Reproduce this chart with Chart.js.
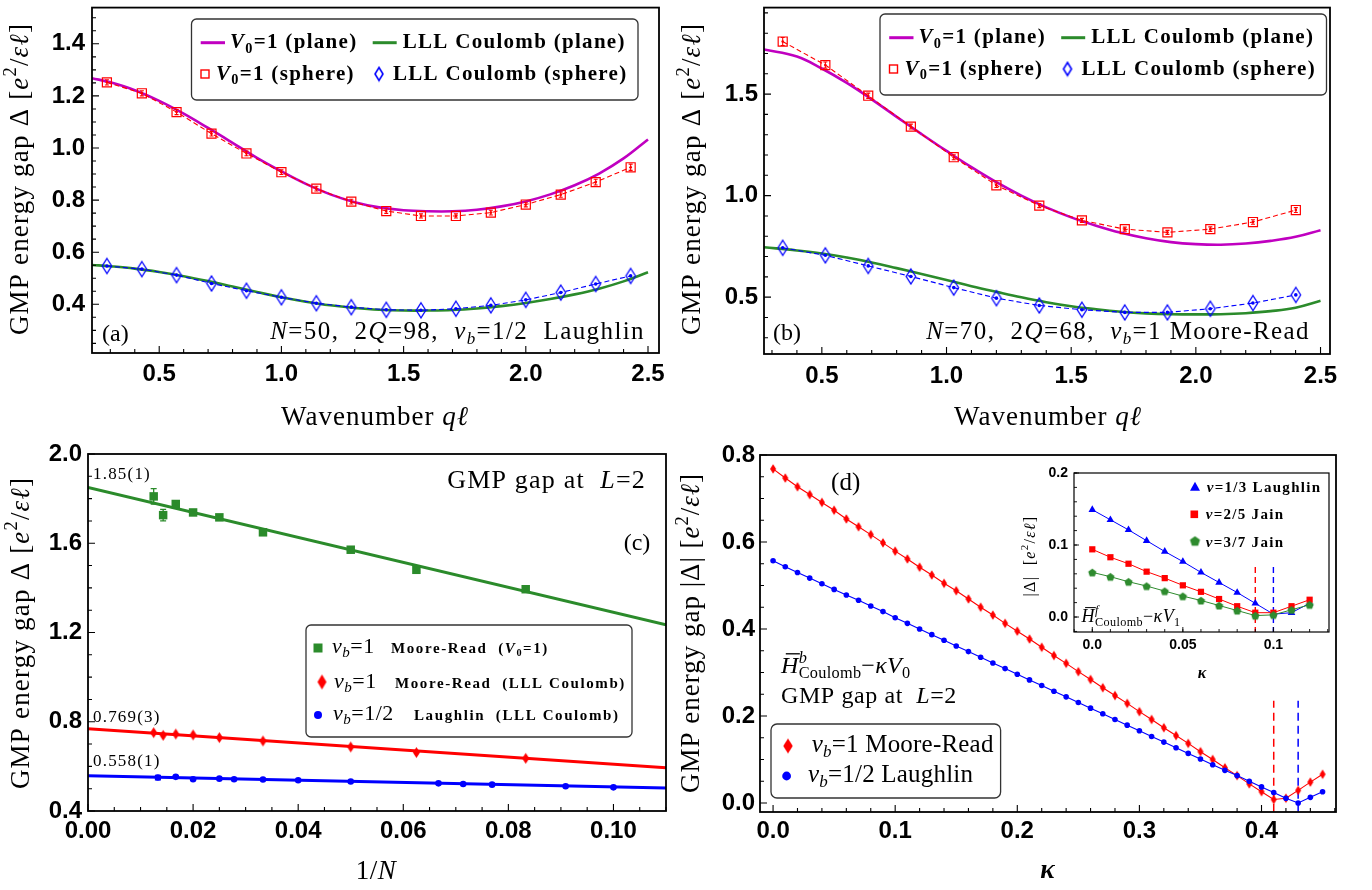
<!DOCTYPE html>
<html>
<head>
<meta charset="utf-8">
<title>GMP energy gap</title>
<script src="https://cdn.jsdelivr.net/npm/chart.js@4.4.1/dist/chart.umd.min.js"></script>
<style>
html,body{margin:0;padding:0;background:#ffffff;}
#wrap{position:relative;width:1372px;height:890px;overflow:hidden;background:#fff;}
#wrap canvas{position:absolute;display:block;}
</style>
</head>
<body>
<div id="wrap">
<canvas id="cA" style="left:0px;top:0px"></canvas>
<canvas id="cB" style="left:670px;top:0px"></canvas>
<canvas id="cC" style="left:0px;top:440px"></canvas>
<canvas id="cD" style="left:670px;top:440px"></canvas>
<canvas id="cI" style="left:1000px;top:460px"></canvas>
</div>
<script>
// ---------------- DATA ----------------
// Panel (a): N=50, 2Q=98, nu_b=1/2 Laughlin
const aSphereQ   = [0.286,0.429,0.571,0.714,0.857,1.000,1.143,1.286,1.429,1.571,1.714,1.857,2.000,2.143,2.286,2.429];
const aV0Sphere  = [1.252,1.210,1.138,1.055,0.979,0.907,0.844,0.794,0.758,0.739,0.739,0.752,0.783,0.821,0.869,0.926];
const aV0Err     = [0.010,0.010,0.010,0.009,0.009,0.009,0.009,0.009,0.009,0.008,0.008,0.009,0.009,0.010,0.011,0.012];
const aCoulSphere= [0.547,0.535,0.512,0.480,0.452,0.427,0.404,0.389,0.379,0.377,0.383,0.396,0.417,0.445,0.478,0.509];
const aPlaneQ    = [0.225,0.3,0.4,0.5,0.6,0.7,0.8,0.9,1.0,1.1,1.2,1.3,1.4,1.5,1.6,1.7,1.8,1.9,2.0,2.1,2.2,2.3,2.4,2.5];
const aV0Plane   = [1.268,1.252,1.222,1.181,1.132,1.077,1.020,0.962,0.910,0.862,0.822,0.792,0.772,0.761,0.757,0.757,0.763,0.776,0.795,0.822,0.857,0.902,0.960,1.033];
const aCoulPlane = [0.551,0.546,0.537,0.524,0.508,0.489,0.468,0.447,0.427,0.410,0.396,0.386,0.379,0.376,0.376,0.378,0.384,0.393,0.405,0.420,0.438,0.460,0.488,0.523];
const aXTickVals = [0.5,1.0,1.5,2.0,2.5];
const aXTickLabels = ['0.5','1.0','1.5','2.0','2.5'];
const aYTickVals = [0.4,0.6,0.8,1.0,1.2,1.4];
const aYTickLabels = ['0.4','0.6','0.8','1.0','1.2','1.4'];

// Panel (b): N=70, 2Q=68, nu_b=1 Moore-Read
const bSphereQ   = [0.343,0.514,0.686,0.857,1.029,1.200,1.372,1.543,1.715,1.886,2.058,2.229,2.401];
const bV0Sphere  = [1.759,1.643,1.492,1.340,1.189,1.051,0.951,0.878,0.835,0.819,0.835,0.870,0.929];
const bV0Err     = [0.020,0.015,0.013,0.012,0.012,0.011,0.010,0.010,0.010,0.010,0.011,0.011,0.012];
const bCoulSphere= [0.743,0.706,0.654,0.602,0.547,0.495,0.459,0.438,0.425,0.425,0.443,0.471,0.511];
const bPlaneQ    = [0.268,0.4,0.5,0.6,0.7,0.8,0.9,1.0,1.1,1.2,1.3,1.4,1.5,1.6,1.7,1.8,1.9,2.0,2.1,2.2,2.3,2.4,2.5];
const bV0Plane   = [1.720,1.685,1.626,1.555,1.474,1.388,1.303,1.220,1.140,1.066,1.000,0.942,0.893,0.852,0.817,0.790,0.771,0.761,0.758,0.764,0.777,0.797,0.830];
const bCoulPlane = [0.746,0.730,0.715,0.695,0.671,0.643,0.614,0.584,0.554,0.526,0.499,0.475,0.455,0.440,0.428,0.420,0.416,0.415,0.416,0.421,0.431,0.448,0.482];
const bXTickVals = [0.5,1.0,1.5,2.0,2.5];
const bXTickLabels = ['0.5','1.0','1.5','2.0','2.5'];
const bYTickVals = [0.5,1.0,1.5];
const bYTickLabels = ['0.5','1.0','1.5'];

// Panel (c): GMP gap at L=2 vs 1/N
const cInvNMR    = [0.0125,0.0143,0.0167,0.0200,0.0250,0.0333,0.0500,0.0625,0.0833];
const cMRV0      = [1.810,1.726,1.776,1.738,1.716,1.649,1.571,1.481,1.394];
const cMRV0Err   = [0.035,0.026,0.012,0.008,0.007,0.007,0.007,0.007,0.007];
const cMRCoul    = [0.751,0.739,0.745,0.741,0.729,0.714,0.687,0.662,0.636];
const cInvNL     = [0.0133,0.0167,0.0200,0.0250,0.0278,0.0333,0.0400,0.0500,0.0667,0.0714,0.0769,0.0909,0.1000];
const cLCoul     = [0.550,0.553,0.542,0.545,0.542,0.541,0.538,0.532,0.524,0.521,0.518,0.511,0.506];
const cLCoulErr  = [0.010,0.004,0.003,0.003,0.003,0.002,0.002,0.002,0.002,0.002,0.002,0.002,0.002];
const cFitX      = [0, 0.11];
const cFitMRV0   = [1.850, 1.234];
const cFitMRCoul = [0.769, 0.594];
const cFitLCoul  = [0.558, 0.503];
const cXTickVals = [0,0.02,0.04,0.06,0.08,0.10];
const cXTickLabels = ['0.00','0.02','0.04','0.06','0.08','0.10'];
const cYTickVals = [0.4,0.8,1.2,1.6,2.0];
const cYTickLabels = ['0.4','0.8','1.2','1.6','2.0'];

// Panel (d): |Delta| vs kappa
const dKappa = [0.00,0.01,0.02,0.03,0.04,0.05,0.06,0.07,0.08,0.09,0.10,0.11,0.12,0.13,0.14,0.15,0.16,0.17,0.18,0.19,0.20,0.21,0.22,0.23,0.24,0.25,0.26,0.27,0.28,0.29,0.30,0.31,0.32,0.33,0.34,0.35,0.36,0.37,0.38,0.39,0.40,0.41,0.42,0.43,0.44,0.45];
const dMR = [0.768,0.747,0.727,0.709,0.691,0.673,0.653,0.635,0.617,0.598,0.579,0.561,0.542,0.524,0.505,0.488,0.469,0.450,0.432,0.413,0.395,0.377,0.358,0.339,0.321,0.302,0.284,0.265,0.247,0.229,0.210,0.192,0.173,0.155,0.137,0.118,0.100,0.081,0.063,0.044,0.026,0.008,0.011,0.029,0.048,0.066];
const dL  = [0.557,0.543,0.530,0.517,0.504,0.491,0.478,0.466,0.453,0.440,0.426,0.413,0.400,0.387,0.374,0.361,0.348,0.335,0.322,0.309,0.296,0.283,0.270,0.257,0.244,0.231,0.218,0.205,0.192,0.179,0.166,0.153,0.140,0.127,0.114,0.101,0.088,0.075,0.063,0.050,0.037,0.024,0.011,0.000,0.013,0.026];
const dCritMR = 0.41, dCritL = 0.43, dCritBottom = -0.05, dCritTop = 0.235;
const dXTickVals = [0,0.1,0.2,0.3,0.4];
const dXTickLabels = ['0.0','0.1','0.2','0.3','0.4'];
const dYTickVals = [0,0.2,0.4,0.6,0.8];
const dYTickLabels = ['0.0','0.2','0.4','0.6','0.8'];

// Inset of (d): fermionic, H_Coulomb - kappa V1
const iKappa = [0.00,0.01,0.02,0.03,0.04,0.05,0.06,0.07,0.08,0.09,0.10,0.11,0.12];
const iL13 = [0.149,0.135,0.121,0.106,0.091,0.077,0.062,0.048,0.034,0.019,0.004,0.006,0.019];
const iJ25 = [0.094,0.083,0.074,0.063,0.054,0.044,0.035,0.025,0.015,0.006,0.006,0.015,0.024];
const iJ37 = [0.062,0.056,0.049,0.043,0.036,0.029,0.023,0.016,0.009,0.002,0.003,0.010,0.017];
const iCrit25 = 0.09, iCrit13 = 0.10, iCritBottom = -0.05, iCritTop = 0.072;
const iXTickVals = [0,0.05,0.1];
const iXTickLabels = ['0.0','0.05','0.1'];
const iYTickVals = [0,0.1,0.2];
const iYTickLabels = ['0.0','0.1','0.2'];

// ---------------- STYLE HELPERS ----------------
const SERIF = "'Liberation Serif','DejaVu Serif',serif";
const SANS = "'Liberation Sans',Arimo,Arial,sans-serif";
const MAG = '#c000c0', GRN = '#2b8b2b', RED = '#ff0000', BLU = '#0000ff';
Chart.defaults.font.family = SANS;

function pts(xs, ys) { return xs.map((x, i) => ({x: x, y: ys[i]})); }

function layoutRich(ctx, segs, size, ls) {
  let x = 0, held = 0; const out = [];
  for (const seg of segs) {
    const t = seg[0], f = seg[1] || '', sc = seg[2] || 1;
    const sup = f.includes('^'), sub = f.includes('_');
    const base = size * sc;
    const s = (sup || sub) ? base * 0.68 : base;
    const font = (f.includes('i') ? 'italic ' : '') + (f.includes('b') ? 'bold ' : '') + s.toFixed(1) + 'px ' + SERIF;
    ctx.font = font; ctx.letterSpacing = ls + 'px';
    const w = ctx.measureText(t).width;
    const dy = sup ? -0.42 * base : sub ? 0.2 * base : 0;
    out.push({t: t, font: font, x: x, dy: dy, w: w, s: s, bar: f.includes('o')});
    if (f.includes('h')) { held = w; } else { x += Math.max(w, held); held = 0; }
  }
  return {out: out, width: x};
}
function drawRich(ctx, segs, x, y, size, o) {
  o = o || {};
  const ls = o.ls || 0;
  ctx.save();
  ctx.translate(x, y);
  if (o.rot) ctx.rotate(o.rot);
  const L = layoutRich(ctx, segs, size, ls);
  const x0 = o.align === 'center' ? -L.width / 2 : (o.align === 'right' ? -L.width : 0);
  ctx.fillStyle = o.color || '#000';
  ctx.textAlign = 'left'; ctx.textBaseline = 'alphabetic';
  ctx.letterSpacing = ls + 'px';
  for (const s of L.out) {
    ctx.font = s.font;
    ctx.fillText(s.t, x0 + s.x, s.dy);
    if (s.bar) {
      ctx.strokeStyle = o.color || '#000'; ctx.lineWidth = Math.max(1, s.s * 0.055);
      const by = s.dy - s.s * 0.8;
      ctx.beginPath(); ctx.moveTo(x0 + s.x + s.s * 0.2, by); ctx.lineTo(x0 + s.x + s.w + s.s * 0.05, by); ctx.stroke();
    }
  }
  ctx.restore();
}
function roundBox(ctx, x1, y1, x2, y2, r, lw, col) {
  ctx.save(); ctx.beginPath(); ctx.roundRect(x1, y1, x2 - x1, y2 - y1, r);
  ctx.fillStyle = '#fff'; ctx.fill(); ctx.lineWidth = lw; ctx.strokeStyle = col; ctx.stroke(); ctx.restore();
}
function hline(ctx, x1, x2, y, col, lw) {
  ctx.save(); ctx.strokeStyle = col; ctx.lineWidth = lw; ctx.beginPath(); ctx.moveTo(x1, y); ctx.lineTo(x2, y); ctx.stroke(); ctx.restore();
}
function mkCanvas(w, h, fn) { const c = document.createElement('canvas'); c.width = w; c.height = h; fn(c.getContext('2d'), w / 2, h / 2); return c; }
function diamond(w, h, fill, stroke, lw) {
  return mkCanvas(Math.ceil(w + 4), Math.ceil(h + 4), (g, cx, cy) => {
    g.beginPath(); g.moveTo(cx, cy - h / 2); g.lineTo(cx + w / 2, cy); g.lineTo(cx, cy + h / 2); g.lineTo(cx - w / 2, cy); g.closePath();
    if (fill) { g.fillStyle = fill; g.fill(); }
    if (stroke) { g.strokeStyle = stroke; g.lineWidth = lw; g.stroke(); }
  });
}
function pentagon(r, fill) {
  return mkCanvas(Math.ceil(2 * r + 4), Math.ceil(2 * r + 4), (g, cx, cy) => {
    g.beginPath();
    for (let k = 0; k < 5; k++) { const a = -Math.PI / 2 + k * 2 * Math.PI / 5; const px = cx + r * Math.cos(a), py = cy + 0.5 + r * Math.sin(a); if (k === 0) g.moveTo(px, py); else g.lineTo(px, py); }
    g.closePath(); g.fillStyle = fill; g.fill();
  });
}
function drawImg(ctx, img, x, y) { ctx.drawImage(img, x - img.width / 2, y - img.height / 2); }

const imgDiaBlueHollow = diamond(9.5, 15, null, BLU, 1.3);
const imgDiaBlueLeg = diamond(8, 13, null, BLU, 1.6);
const imgDiaRedC = diamond(7, 11, RED, null, 0);
const imgDiaRedLegC = diamond(9, 15, RED, null, 0);
const imgDiaRedD = diamond(6, 9.5, RED, null, 0);
const imgDiaRedLegD = diamond(9.5, 15, RED, null, 0);
const imgPent = pentagon(4.3, '#2e8b2e');
const imgPentLeg = pentagon(5.3, '#2e8b2e');

// ---------------- PLUGINS ----------------
const framePlugin = {
  id: 'frame',
  afterDatasetsDraw(chart, args, o) {
    if (!o || !o.on) return;
    const ctx = chart.ctx, a = chart.chartArea, xs = chart.scales.x, ys = chart.scales.y;
    const minor = (sc, step) => { const out = []; const k0 = Math.ceil(sc.min / step - 1e-9), k1 = Math.floor(sc.max / step + 1e-9); for (let k = k0; k <= k1; k++) out.push(k * step); return out; };
    ctx.save();
    ctx.strokeStyle = '#000'; ctx.lineWidth = o.tw || 1.1;
    ctx.beginPath();
    for (const v of minor(xs, o.xMinor)) { const p = xs.getPixelForValue(v); ctx.moveTo(p, a.bottom); ctx.lineTo(p, a.bottom - o.minorLen); }
    for (const t of xs.ticks) { const p = xs.getPixelForValue(t.value); ctx.moveTo(p, a.bottom); ctx.lineTo(p, a.bottom - o.majorLen); }
    for (const v of minor(ys, o.yMinor)) { const p = ys.getPixelForValue(v); ctx.moveTo(a.left, p); ctx.lineTo(a.left + o.minorLen, p); }
    for (const t of ys.ticks) { const p = ys.getPixelForValue(t.value); ctx.moveTo(a.left, p); ctx.lineTo(a.left + o.majorLen, p); }
    ctx.stroke();
    ctx.lineWidth = o.lw || 1.8;
    ctx.strokeRect(a.left, a.top, a.right - a.left, a.bottom - a.top);
    ctx.restore();
  }
};
const errPlugin = {
  id: 'errbars',
  afterDatasetsDraw(chart) {
    const ctx = chart.ctx, ys = chart.scales.y;
    chart.data.datasets.forEach((ds, i) => {
      if (!ds.errBars) return;
      const meta = chart.getDatasetMeta(i);
      ctx.save(); ctx.strokeStyle = ds.errColor; ctx.lineWidth = ds.errWidth || 1.2;
      ctx.beginPath();
      meta.data.forEach((pt, j) => {
        const e = ds.errBars[j], v = ds.data[j].y, c = ds.errCap || 2.5;
        const t = ys.getPixelForValue(v + e), b = ys.getPixelForValue(v - e);
        ctx.moveTo(pt.x, t); ctx.lineTo(pt.x, b);
        ctx.moveTo(pt.x - c, t); ctx.lineTo(pt.x + c, t);
        ctx.moveTo(pt.x - c, b); ctx.lineTo(pt.x + c, b);
      });
      ctx.stroke(); ctx.restore();
    });
  }
};
Chart.register(framePlugin, errPlugin);

function axis(min, max, vals, labels, size, pad, fit, horiz) {
  return {
    type: 'linear', min: min, max: max,
    grid: {display: false, drawTicks: false},
    border: {display: false},
    ticks: {font: {family: SANS, size: size, weight: 'bold'}, color: '#000', padding: pad, autoSkip: false, maxRotation: 0, minRotation: 0,
            callback: (v, i) => labels[i]},
    afterBuildTicks: s => { s.ticks = vals.map(v => ({value: v})); },
    afterFit: s => { if (horiz) s.height = fit; else s.width = fit; s.paddingTop = 0; s.paddingBottom = 0; s.paddingLeft = 0; s.paddingRight = 0; }
  };
}
function makeChart(id, w, h, pad, xs, ys, datasets, frame, deco) {
  const cv = document.getElementById(id); cv.width = w; cv.height = h;
  return new Chart(cv, {
    type: 'scatter',
    data: {datasets: datasets},
    options: {
      responsive: false, animation: false, devicePixelRatio: 1, events: [],
      layout: {padding: pad},
      plugins: {legend: {display: false}, tooltip: {enabled: false}, frame: frame},
      scales: {x: xs, y: ys}
    },
    plugins: [{id: 'deco_' + id, afterDraw: c => { c.ctx.save(); deco(c.ctx); c.ctx.restore(); }}]
  });
}

const YT = [['GMP energy gap Δ ['], ['e', 'i'], ['2', '^'], ['/'], ['εℓ', 'i'], [']']];
const YTD = [['GMP energy gap |Δ| ['], ['e', 'i'], ['2', '^'], ['/'], ['εℓ', 'i'], [']']];
const ROT = -Math.PI / 2;
const TS = 27, TLS = 1.2;

function legendAB(ctx, dx, dy) {
  roundBox(ctx, 191.5 + dx, 19 + dy, 638 + dx, 100 + dy, 5, 1.3, '#333');
  hline(ctx, 200.7 + dx, 225 + dx, 42.7 + dy, MAG, 3);
  drawRich(ctx, [['V', 'ib'], ['0', 'b_'], ['=1 (plane)', 'b']], 230 + dx, 48.3 + dy, 21, {ls: 1.3});
  hline(ctx, 372.7 + dx, 396.7 + dx, 42.7 + dy, GRN, 3);
  drawRich(ctx, [['LLL Coulomb (plane)', 'b']], 402.7 + dx, 48.3 + dy, 21, {ls: 1.3});
  ctx.save(); ctx.strokeStyle = RED; ctx.lineWidth = 1.4; ctx.strokeRect(205 + dx - 4, 74 + dy - 4, 8, 8); ctx.restore();
  drawRich(ctx, [['V', 'ib'], ['0', 'b_'], ['=1 (sphere)', 'b']], 216 + dx, 80 + dy, 21, {ls: 1.3});
  drawImg(ctx, imgDiaBlueLeg, 379 + dx, 74 + dy);
  drawRich(ctx, [['LLL Coulomb (sphere)', 'b']], 393 + dx, 80 + dy, 21, {ls: 1.3});
}

function sphereSets(q, v0, v0err, coul) {
  return [
    {data: pts(q, v0), showLine: false, pointStyle: 'rect', pointRadius: 6.4, pointBackgroundColor: 'rgba(0,0,0,0)', pointBorderColor: RED, pointBorderWidth: 1.2, errBars: v0err, errColor: RED, errCap: 2, errWidth: 1.1, order: 0},
    {data: pts(q, coul), showLine: false, pointStyle: imgDiaBlueHollow, pointRadius: 5, order: 1},
    {data: pts(q, v0), showLine: true, borderColor: RED, borderWidth: 1.1, borderDash: [5, 3], pointRadius: 1.3, pointBackgroundColor: RED, pointBorderWidth: 0, order: 2},
    {data: pts(q, coul), showLine: true, borderColor: BLU, borderWidth: 1.1, borderDash: [5, 3], pointRadius: 1.8, pointBackgroundColor: BLU, pointBorderWidth: 0, order: 3}
  ];
}
function planeSets(q, v0, coul) {
  return [
    {data: pts(q, v0), showLine: true, borderColor: MAG, borderWidth: 2.6, pointRadius: 0, tension: 0.4, clip: 0, order: 4},
    {data: pts(q, coul), showLine: true, borderColor: GRN, borderWidth: 2.6, pointRadius: 0, tension: 0.4, clip: 0, order: 5}
  ];
}

// ---------------- PANEL (a) ----------------
makeChart('cA', 690, 440, {left: 0, top: 5, right: 31, bottom: 0},
  axis(0.225, 2.545, aXTickVals, aXTickLabels, 24, 7, 87, true),
  axis(0.213, 1.539, aYTickVals, aYTickLabels, 24, 7, 92, false),
  sphereSets(aSphereQ, aV0Sphere, aV0Err, aCoulSphere).concat(planeSets(aPlaneQ, aV0Plane, aCoulPlane)),
  {on: true, xMinor: 0.1, yMinor: 0.05, majorLen: 7, minorLen: 4},
  ctx => {
    drawRich(ctx, YT, 27.5, 179, TS, {align: 'center', rot: ROT, ls: TLS});
    drawRich(ctx, [['Wavenumber '], ['qℓ', 'i']], 375, 425, 27, {align: 'center', ls: 1.0});
    drawRich(ctx, [['(a)']], 102, 341, 24);
    drawRich(ctx, [['N', 'i'], ['=50,  2'], ['Q', 'i'], ['=98,  '], ['ν', 'i'], ['b', 'i_'], ['=1/2  Laughlin']], 645, 339, 25, {align: 'right', ls: 1.4});
    legendAB(ctx, 0, 0);
  });

// ---------------- PANEL (b) ----------------
makeChart('cB', 702, 440, {left: 0, top: 5, right: 42, bottom: 0},
  axis(0.268, 2.538, bXTickVals, bXTickLabels, 24, 8, 86, true),
  axis(0.22, 1.926, bYTickVals, bYTickLabels, 24, 6, 94, false),
  sphereSets(bSphereQ, bV0Sphere, bV0Err, bCoulSphere).concat(planeSets(bPlaneQ, bV0Plane, bCoulPlane)),
  {on: true, xMinor: 0.1, yMinor: 0.1, majorLen: 7, minorLen: 4},
  ctx => {
    ctx.translate(-670, 0);
    drawRich(ctx, YT, 700, 179, TS, {align: 'center', rot: ROT, ls: TLS});
    drawRich(ctx, [['Wavenumber '], ['qℓ', 'i']], 1048, 425, 27, {align: 'center', ls: 1.0});
    drawRich(ctx, [['(b)']], 773, 340, 24);
    drawRich(ctx, [['N', 'i'], ['=70,  2'], ['Q', 'i'], ['=68,  '], ['ν', 'i'], ['b', 'i_'], ['=1 Moore-Read']], 1310, 339, 25, {align: 'right', ls: 1.4});
    legendAB(ctx, 688.5, -5);
  });

// ---------------- PANEL (c) ----------------
makeChart('cC', 690, 450, {left: 0, top: 14, right: 24, bottom: 0},
  axis(0, 0.11, cXTickVals, cXTickLabels, 24, 6, 79, true),
  axis(0.4, 2.0, cYTickVals, cYTickLabels, 24, 6, 88, false),
  [
    {data: pts(cInvNMR, cMRV0), showLine: false, pointStyle: 'rect', pointRadius: 6, pointBackgroundColor: GRN, pointBorderColor: GRN, pointBorderWidth: 0, errBars: cMRV0Err, errColor: GRN, errCap: 3, errWidth: 1.3, order: 0},
    {data: pts(cInvNMR, cMRCoul), showLine: false, pointStyle: imgDiaRedC, pointRadius: 5, order: 1},
    {data: pts(cInvNL, cLCoul), showLine: false, pointStyle: 'circle', pointRadius: 3.3, pointBackgroundColor: BLU, pointBorderColor: BLU, pointBorderWidth: 0, errBars: cLCoulErr, errColor: BLU, errCap: 3, errWidth: 1.3, order: 2},
    {data: pts(cFitX, cFitMRV0), showLine: true, borderColor: GRN, borderWidth: 3, pointRadius: 0, clip: 0, order: 5},
    {data: pts(cFitX, cFitMRCoul), showLine: true, borderColor: RED, borderWidth: 3, pointRadius: 0, clip: 0, order: 6},
    {data: pts(cFitX, cFitLCoul), showLine: true, borderColor: BLU, borderWidth: 3.2, pointRadius: 0, clip: 0, order: 7}
  ],
  {on: true, xMinor: 0.005, yMinor: 0.1, majorLen: 7, minorLen: 4},
  ctx => {
    ctx.translate(0, -440);
    drawRich(ctx, YT, 28.5, 633, TS, {align: 'center', rot: ROT, ls: TLS});
    drawRich(ctx, [['1/'], ['N', 'i']], 376, 879, 27, {align: 'center', ls: 0.5});
    drawRich(ctx, [['1.85(1)']], 93, 479, 17, {ls: 1.2});
    drawRich(ctx, [['0.769(3)']], 93, 722, 17, {ls: 1.2});
    drawRich(ctx, [['0.558(1)']], 93, 765.5, 17, {ls: 1.2});
    drawRich(ctx, [['GMP gap at  '], ['L', 'i'], ['=2']], 646, 488, 26, {align: 'right', ls: 1.2});
    drawRich(ctx, [['(c)']], 637, 550, 24, {align: 'center'});
    roundBox(ctx, 306, 625, 632, 737, 5, 1.3, '#333');
    ctx.fillStyle = GRN; ctx.fillRect(318 - 4.5, 648 - 4.5, 9, 9);
    drawImg(ctx, imgDiaRedLegC, 322, 682);
    ctx.fillStyle = BLU; ctx.beginPath(); ctx.arc(318, 715, 4, 0, 2 * Math.PI); ctx.fill();
    drawRich(ctx, [['ν', 'i'], ['b', 'i_'], ['=1']], 332, 213 + 440, 22, {ls: 0.5});
    drawRich(ctx, [['Moore-Read  (', 'b'], ['V', 'ib'], ['0', 'b_'], ['=1)', 'b']], 391, 213 + 440, 15, {ls: 1.6});
    drawRich(ctx, [['ν', 'i'], ['b', 'i_'], ['=1']], 334, 247.7 + 440, 22, {ls: 0.5});
    drawRich(ctx, [['Moore-Read  (LLL Coulomb)', 'b']], 395, 247.7 + 440, 15, {ls: 1.6});
    drawRich(ctx, [['ν', 'i'], ['b', 'i_'], ['=1/2']], 333, 280 + 440, 22, {ls: 0.5});
    drawRich(ctx, [['Laughlin  (LLL Coulomb)', 'b']], 414, 280 + 440, 15, {ls: 1.6});
  });

// ---------------- PANEL (d) ----------------
makeChart('cD', 702, 450, {left: 0, top: 15, right: 36, bottom: 0},
  axis(-0.0107, 0.461, dXTickVals, dXTickLabels, 24, 5, 78, true),
  axis(-0.0207, 0.8, dYTickVals, dYTickLabels, 24, 5, 90, false),
  [
    {data: pts(dKappa, dL), showLine: true, borderColor: BLU, borderWidth: 1.1, pointStyle: 'circle', pointRadius: 2.8, pointBackgroundColor: BLU, pointBorderColor: BLU, pointBorderWidth: 0, order: 0},
    {data: pts(dKappa, dMR), showLine: true, borderColor: RED, borderWidth: 1.1, pointStyle: imgDiaRedD, pointRadius: 4, order: 1},
    {data: [{x: dCritMR, y: dCritBottom}, {x: dCritMR, y: dCritTop}], showLine: true, borderColor: RED, borderWidth: 1.5, borderDash: [8, 5], pointRadius: 0, clip: 0, order: 3},
    {data: [{x: dCritL, y: dCritBottom}, {x: dCritL, y: dCritTop}], showLine: true, borderColor: BLU, borderWidth: 1.5, borderDash: [8, 5], pointRadius: 0, clip: 0, order: 4}
  ],
  {on: true, xMinor: 0.02, yMinor: 0.05, majorLen: 7, minorLen: 4},
  ctx => {
    ctx.translate(-670, -440);
    drawRich(ctx, YTD, 699, 633, TS, {align: 'center', rot: ROT, ls: 1.0});
    drawRich(ctx, [['κ', 'ib']], 1047.5, 878, 27, {align: 'center'});
    drawRich(ctx, [['(d)']], 845.7, 490, 25, {align: 'center'});
    drawRich(ctx, [['H', 'io'], ['b', 'i^h'], ['Coulomb', '_'], ['−'], ['κ', 'i'], ['V', 'i'], ['0', '_']], 781, 673, 24, {ls: 0.3});
    drawRich(ctx, [['GMP gap at  '], ['L', 'i'], ['=2']], 781, 703, 24, {ls: 0.6});
    roundBox(ctx, 771, 724, 1000.6, 798, 6, 1.3, '#333');
    drawImg(ctx, imgDiaRedLegD, 788, 746);
    drawRich(ctx, [['ν', 'i'], ['b', 'i_'], ['=1 Moore-Read']], 811.8, 751.7, 25, {ls: 0.2});
    ctx.fillStyle = BLU; ctx.beginPath(); ctx.arc(786.6, 776, 4.4, 0, 2 * Math.PI); ctx.fill();
    drawRich(ctx, [['ν', 'i'], ['b', 'i_'], ['=1/2 Laughlin']], 808, 781.7, 25, {ls: 0.2});
  });

// ---------------- INSET ----------------
makeChart('cI', 340, 230, {left: 0, top: 13, right: 11, bottom: 0},
  axis(-0.0101, 0.1307, iXTickVals, iXTickLabels, 14, 4.5, 58, true),
  axis(-0.0208, 0.2, iYTickVals, iYTickLabels, 14, 6, 74, false),
  [
    {data: pts(iKappa, iL13), showLine: true, borderColor: BLU, borderWidth: 1, pointStyle: 'triangle', pointRadius: 4.4, pointBackgroundColor: BLU, pointBorderColor: BLU, pointBorderWidth: 0, order: 2},
    {data: pts(iKappa, iJ25), showLine: true, borderColor: RED, borderWidth: 1, pointStyle: 'rect', pointRadius: 4.4, pointBackgroundColor: RED, pointBorderColor: RED, pointBorderWidth: 0, order: 1},
    {data: pts(iKappa, iJ37), showLine: true, borderColor: '#2e8b2e', borderWidth: 1, pointStyle: imgPent, pointRadius: 4, order: 0},
    {data: [{x: iCrit25, y: iCritBottom}, {x: iCrit25, y: iCritTop}], showLine: true, borderColor: RED, borderWidth: 1.4, borderDash: [6, 4], pointRadius: 0, clip: 0, order: 4},
    {data: [{x: iCrit13, y: iCritBottom}, {x: iCrit13, y: iCritTop}], showLine: true, borderColor: BLU, borderWidth: 1.4, borderDash: [6, 4], pointRadius: 0, clip: 0, order: 5}
  ],
  {on: true, xMinor: 0.01, yMinor: 0.02, majorLen: 5, minorLen: 3, lw: 1.2, tw: 0.9},
  ctx => {
    ctx.translate(-1000, -460);
    drawRich(ctx, [['|Δ|  ['], ['e', 'i'], ['2', '^'], ['/'], ['εℓ', 'i'], [']']], 1035, 556, 16, {align: 'center', rot: ROT, ls: 1.3});
    drawRich(ctx, [['κ', 'ib']], 1202, 678, 16, {align: 'center'});
    ctx.fillStyle = BLU; ctx.beginPath(); ctx.moveTo(1195, 487.3 - 5.5); ctx.lineTo(1195 + 5, 487.3 + 3.5); ctx.lineTo(1195 - 5, 487.3 + 3.5); ctx.closePath(); ctx.fill();
    drawRich(ctx, [['ν', 'ib'], ['=1/3 Laughlin', 'b']], 1206.7, 492.3, 15, {ls: 1.3});
    ctx.fillStyle = RED; ctx.fillRect(1194.3 - 3.8, 514.3 - 3.8, 7.6, 7.6);
    drawRich(ctx, [['ν', 'ib'], ['=2/5 Jain', 'b']], 1205.7, 519, 15, {ls: 1.3});
    drawImg(ctx, imgPentLeg, 1195, 541);
    drawRich(ctx, [['ν', 'ib'], ['=3/7 Jain', 'b']], 1205.7, 546.7, 15, {ls: 1.3});
    drawRich(ctx, [['H', 'io'], ['f', 'i^h'], ['Coulomb', '_'], ['−'], ['κ', 'i'], ['V', 'i'], ['1', '_']], 1081.5, 622, 18, {ls: 0.4});
  });
</script>
</body>
</html>
